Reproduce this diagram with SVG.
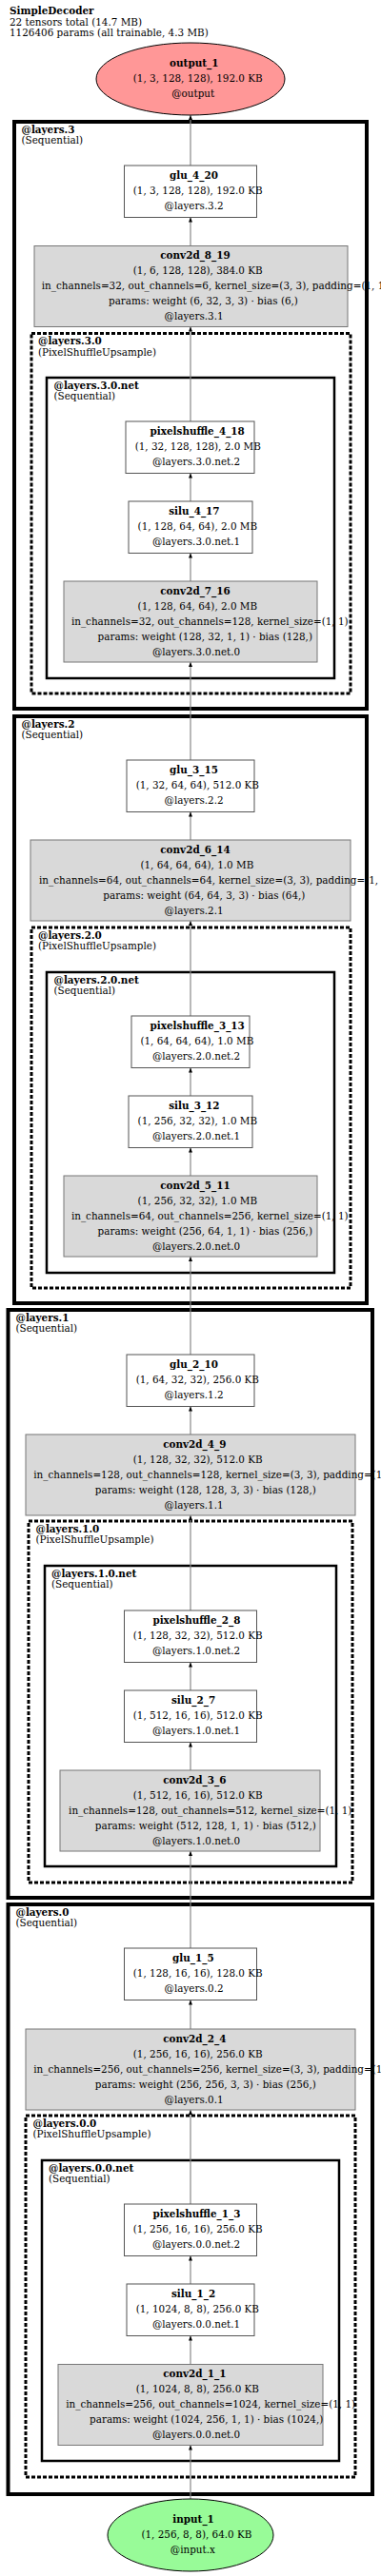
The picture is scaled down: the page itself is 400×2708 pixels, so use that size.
<svg xmlns="http://www.w3.org/2000/svg" width="400" height="2708" viewBox="0 0 400 2708">
<style>
text{font-family:"DejaVu Serif","Liberation Serif",serif;font-size:10.4px;fill:#000}
.b{font-weight:bold}
.box{fill:#fff;stroke:#555;stroke-width:1}
.conv{fill:#d9d9d9;stroke:#777;stroke-width:1}
.seq{fill:none;stroke:#000;stroke-width:4}
.psu{fill:none;stroke:#000;stroke-width:3;stroke-dasharray:4 2}
.net{fill:none;stroke:#000;stroke-width:2.5}
.e{stroke:#888;stroke-width:1.2;fill:none;marker-end:url(#ah)}
</style>
<defs>
<marker id="ah" viewBox="0 0 5 4" refX="5" refY="2" markerWidth="5" markerHeight="4" markerUnits="userSpaceOnUse" orient="auto">
<path d="M0,0 L5,2 L0,4 z" fill="#000"/>
</marker>
</defs>
<rect x="0" y="0" width="400" height="2708" fill="#fff"/>
<g id="title">
<text x="10" y="15" class="b">SimpleDecoder</text>
<text x="10" y="26.5">22 tensors total (14.7 MB)</text>
<text x="10" y="38">1126406 params (all trainable, 4.3 MB)</text>
</g>
<g id="clusters">
<g id="cluster_layers_3">
<rect class="seq" x="15" y="128" width="370" height="617"/>
<text x="22.5" y="139.5" class="b">@layers.3</text><text x="22.5" y="151">(Sequential)</text>
</g>
<g id="cluster_layers_3_0">
<rect class="psu" x="33" y="350.5" width="335" height="378.5"/>
<text x="40" y="362" class="b">@layers.3.0</text><text x="40" y="373.5">(PixelShuffleUpsample)</text>
</g>
<g id="cluster_layers_3_0_net">
<rect class="net" x="49" y="397" width="302" height="316"/>
<text x="56.5" y="408.5" class="b">@layers.3.0.net</text><text x="56.5" y="420">(Sequential)</text>
</g>
<g id="cluster_layers_2">
<rect class="seq" x="15" y="753" width="370" height="617"/>
<text x="22.5" y="764.5" class="b">@layers.2</text><text x="22.5" y="776">(Sequential)</text>
</g>
<g id="cluster_layers_2_0">
<rect class="psu" x="33" y="975" width="335" height="379"/>
<text x="40" y="986.5" class="b">@layers.2.0</text><text x="40" y="998">(PixelShuffleUpsample)</text>
</g>
<g id="cluster_layers_2_0_net">
<rect class="net" x="49" y="1022" width="302" height="316"/>
<text x="56.5" y="1033.5" class="b">@layers.2.0.net</text><text x="56.5" y="1045">(Sequential)</text>
</g>
<g id="cluster_layers_1">
<rect class="seq" x="8.5" y="1377" width="382.5" height="618"/>
<text x="16.5" y="1388.5" class="b">@layers.1</text><text x="16.5" y="1400">(Sequential)</text>
</g>
<g id="cluster_layers_1_0">
<rect class="psu" x="30" y="1599" width="340" height="380"/>
<text x="37.5" y="1610.5" class="b">@layers.1.0</text><text x="37.5" y="1622">(PixelShuffleUpsample)</text>
</g>
<g id="cluster_layers_1_0_net">
<rect class="net" x="47" y="1646" width="306" height="316"/>
<text x="54" y="1657.5" class="b">@layers.1.0.net</text><text x="54" y="1669">(Sequential)</text>
</g>
<g id="cluster_layers_0">
<rect class="seq" x="8.5" y="2002" width="382.5" height="620"/>
<text x="16.5" y="2013.5" class="b">@layers.0</text><text x="16.5" y="2025">(Sequential)</text>
</g>
<g id="cluster_layers_0_0">
<rect class="psu" x="27" y="2224" width="346" height="380"/>
<text x="34.5" y="2235.5" class="b">@layers.0.0</text><text x="34.5" y="2247">(PixelShuffleUpsample)</text>
</g>
<g id="cluster_layers_0_0_net">
<rect class="net" x="44" y="2271" width="312" height="316"/>
<text x="51" y="2282.5" class="b">@layers.0.0.net</text><text x="51" y="2294">(Sequential)</text>
</g>
</g>
<g id="edges">
<line class="e" x1="200" y1="2627" x2="200" y2="2570.5"/>
<line class="e" x1="200" y1="2485.5" x2="200" y2="2455.5"/>
<line class="e" x1="200" y1="2401" x2="200" y2="2371.5"/>
<line class="e" x1="200" y1="2317" x2="200" y2="2218"/>
<line class="e" x1="200" y1="2133" x2="200" y2="2102.5"/>
<line class="e" x1="200" y1="2048" x2="200" y2="1946"/>
<line class="e" x1="200" y1="1861" x2="200" y2="1831.5"/>
<line class="e" x1="200" y1="1777" x2="200" y2="1747.5"/>
<line class="e" x1="200" y1="1693" x2="200" y2="1593"/>
<line class="e" x1="200" y1="1508" x2="200" y2="1478.5"/>
<line class="e" x1="200" y1="1424" x2="200" y2="1321"/>
<line class="e" x1="200" y1="1236" x2="200" y2="1206.5"/>
<line class="e" x1="200" y1="1152" x2="200" y2="1122.5"/>
<line class="e" x1="200" y1="1068" x2="200" y2="968"/>
<line class="e" x1="200" y1="883" x2="200" y2="853.5"/>
<line class="e" x1="200" y1="799" x2="200" y2="696"/>
<line class="e" x1="200" y1="611" x2="200" y2="581.5"/>
<line class="e" x1="200" y1="527" x2="200" y2="497.5"/>
<line class="e" x1="200" y1="443" x2="200" y2="343.5"/>
<line class="e" x1="200" y1="258.5" x2="200" y2="228.5"/>
<line class="e" x1="200" y1="174" x2="200" y2="121"/>
</g>
<g id="output_1">
<ellipse cx="200" cy="83" rx="99" ry="38" fill="#ff9797" stroke="#000" stroke-width="1"/>
<text x="178.1" y="70" class="b">output_1</text>
<text x="139.8" y="86">(1, 3, 128, 128), 192.0 KB</text>
<text x="180.2" y="102">@output</text>
</g>
<g id="glu_4_20">
<rect class="box" x="130.5" y="174" width="139" height="54.5"/>
<text x="178.1" y="187.5" class="b">glu_4_20</text>
<text x="139.8" y="203.5">(1, 3, 128, 128), 192.0 KB</text>
<text x="172.6" y="219.5">@layers.3.2</text>
</g>
<g id="conv2d_8_19">
<rect class="conv" x="36" y="258.5" width="329" height="85"/>
<text x="168.3" y="272" class="b">conv2d_8_19</text>
<text x="139.8" y="288">(1, 6, 128, 128), 384.0 KB</text>
<text x="43.8" y="304">in_channels=32, out_channels=6, kernel_size=(3, 3), padding=(1, 1)</text>
<text x="114" y="320">params: weight (6, 32, 3, 3) · bias (6,)</text>
<text x="172.6" y="336">@layers.3.1</text>
</g>
<g id="pixelshuffle_4_18">
<rect class="box" x="132" y="443" width="135" height="54.5"/>
<text x="157.6" y="456.5" class="b">pixelshuffle_4_18</text>
<text x="141.7" y="472.5">(1, 32, 128, 128), 2.0 MB</text>
<text x="159.9" y="488.5">@layers.3.0.net.2</text>
</g>
<g id="silu_4_17">
<rect class="box" x="135" y="527" width="130" height="54.5"/>
<text x="177.2" y="540.5" class="b">silu_4_17</text>
<text x="144.6" y="556.5">(1, 128, 64, 64), 2.0 MB</text>
<text x="159.9" y="572.5">@layers.3.0.net.1</text>
</g>
<g id="conv2d_7_16">
<rect class="conv" x="67" y="611" width="266" height="85"/>
<text x="168.3" y="624.5" class="b">conv2d_7_16</text>
<text x="144.6" y="640.5">(1, 128, 64, 64), 2.0 MB</text>
<text x="74.9" y="656.5">in_channels=32, out_channels=128, kernel_size=(1, 1)</text>
<text x="102.6" y="672.5">params: weight (128, 32, 1, 1) · bias (128,)</text>
<text x="159.9" y="688.5">@layers.3.0.net.0</text>
</g>
<g id="glu_3_15">
<rect class="box" x="133" y="799" width="134" height="54.5"/>
<text x="178.1" y="812.5" class="b">glu_3_15</text>
<text x="142.7" y="828.5">(1, 32, 64, 64), 512.0 KB</text>
<text x="172.6" y="844.5">@layers.2.2</text>
</g>
<g id="conv2d_6_14">
<rect class="conv" x="32" y="883" width="336" height="85"/>
<text x="168.3" y="896.5" class="b">conv2d_6_14</text>
<text x="147.4" y="912.5">(1, 64, 64, 64), 1.0 MB</text>
<text x="41" y="928.5">in_channels=64, out_channels=64, kernel_size=(3, 3), padding=(1, 1)</text>
<text x="108.3" y="944.5">params: weight (64, 64, 3, 3) · bias (64,)</text>
<text x="172.6" y="960.5">@layers.2.1</text>
</g>
<g id="pixelshuffle_3_13">
<rect class="box" x="138" y="1068" width="124" height="54.5"/>
<text x="157.6" y="1081.5" class="b">pixelshuffle_3_13</text>
<text x="147.4" y="1097.5">(1, 64, 64, 64), 1.0 MB</text>
<text x="159.9" y="1113.5">@layers.2.0.net.2</text>
</g>
<g id="silu_3_12">
<rect class="box" x="135" y="1152" width="130" height="54.5"/>
<text x="177.2" y="1165.5" class="b">silu_3_12</text>
<text x="144.6" y="1181.5">(1, 256, 32, 32), 1.0 MB</text>
<text x="159.9" y="1197.5">@layers.2.0.net.1</text>
</g>
<g id="conv2d_5_11">
<rect class="conv" x="67" y="1236" width="266" height="85"/>
<text x="168.3" y="1249.5" class="b">conv2d_5_11</text>
<text x="144.6" y="1265.5">(1, 256, 32, 32), 1.0 MB</text>
<text x="74.9" y="1281.5">in_channels=64, out_channels=256, kernel_size=(1, 1)</text>
<text x="102.6" y="1297.5">params: weight (256, 64, 1, 1) · bias (256,)</text>
<text x="159.9" y="1313.5">@layers.2.0.net.0</text>
</g>
<g id="glu_2_10">
<rect class="box" x="133" y="1424" width="134" height="54.5"/>
<text x="178.1" y="1437.5" class="b">glu_2_10</text>
<text x="142.7" y="1453.5">(1, 64, 32, 32), 256.0 KB</text>
<text x="172.6" y="1469.5">@layers.1.2</text>
</g>
<g id="conv2d_4_9">
<rect class="conv" x="27" y="1508" width="346" height="85"/>
<text x="171.2" y="1521.5" class="b">conv2d_4_9</text>
<text x="139.8" y="1537.5">(1, 128, 32, 32), 512.0 KB</text>
<text x="35.3" y="1553.5">in_channels=128, out_channels=128, kernel_size=(3, 3), padding=(1, 1)</text>
<text x="99.8" y="1569.5">params: weight (128, 128, 3, 3) · bias (128,)</text>
<text x="172.6" y="1585.5">@layers.1.1</text>
</g>
<g id="pixelshuffle_2_8">
<rect class="box" x="130.5" y="1693" width="139" height="54.5"/>
<text x="160.4" y="1706.5" class="b">pixelshuffle_2_8</text>
<text x="139.8" y="1722.5">(1, 128, 32, 32), 512.0 KB</text>
<text x="159.9" y="1738.5">@layers.1.0.net.2</text>
</g>
<g id="silu_2_7">
<rect class="box" x="130.5" y="1777" width="139" height="54.5"/>
<text x="180" y="1790.5" class="b">silu_2_7</text>
<text x="139.8" y="1806.5">(1, 512, 16, 16), 512.0 KB</text>
<text x="159.9" y="1822.5">@layers.1.0.net.1</text>
</g>
<g id="conv2d_3_6">
<rect class="conv" x="63" y="1861" width="273" height="85"/>
<text x="171.2" y="1874.5" class="b">conv2d_3_6</text>
<text x="139.8" y="1890.5">(1, 512, 16, 16), 512.0 KB</text>
<text x="72.1" y="1906.5">in_channels=128, out_channels=512, kernel_size=(1, 1)</text>
<text x="99.8" y="1922.5">params: weight (512, 128, 1, 1) · bias (512,)</text>
<text x="159.9" y="1938.5">@layers.1.0.net.0</text>
</g>
<g id="glu_1_5">
<rect class="box" x="130.5" y="2048" width="139" height="54.5"/>
<text x="181" y="2061.5" class="b">glu_1_5</text>
<text x="139.8" y="2077.5">(1, 128, 16, 16), 128.0 KB</text>
<text x="172.6" y="2093.5">@layers.0.2</text>
</g>
<g id="conv2d_2_4">
<rect class="conv" x="27" y="2133" width="346" height="85"/>
<text x="171.2" y="2146.5" class="b">conv2d_2_4</text>
<text x="139.8" y="2162.5">(1, 256, 16, 16), 256.0 KB</text>
<text x="35.3" y="2178.5">in_channels=256, out_channels=256, kernel_size=(3, 3), padding=(1, 1)</text>
<text x="99.8" y="2194.5">params: weight (256, 256, 3, 3) · bias (256,)</text>
<text x="172.6" y="2210.5">@layers.0.1</text>
</g>
<g id="pixelshuffle_1_3">
<rect class="box" x="130.5" y="2317" width="139" height="54.5"/>
<text x="160.4" y="2330.5" class="b">pixelshuffle_1_3</text>
<text x="139.8" y="2346.5">(1, 256, 16, 16), 256.0 KB</text>
<text x="159.9" y="2362.5">@layers.0.0.net.2</text>
</g>
<g id="silu_1_2">
<rect class="box" x="133" y="2401" width="134" height="54.5"/>
<text x="180" y="2414.5" class="b">silu_1_2</text>
<text x="142.7" y="2430.5">(1, 1024, 8, 8), 256.0 KB</text>
<text x="159.9" y="2446.5">@layers.0.0.net.1</text>
</g>
<g id="conv2d_1_1">
<rect class="conv" x="61" y="2485.5" width="278" height="85"/>
<text x="171.2" y="2499" class="b">conv2d_1_1</text>
<text x="142.7" y="2515">(1, 1024, 8, 8), 256.0 KB</text>
<text x="69.2" y="2531">in_channels=256, out_channels=1024, kernel_size=(1, 1)</text>
<text x="94.1" y="2547">params: weight (1024, 256, 1, 1) · bias (1024,)</text>
<text x="159.9" y="2563">@layers.0.0.net.0</text>
</g>
<g id="input_1">
<ellipse cx="200" cy="2665" rx="87" ry="38" fill="#98fb98" stroke="#000" stroke-width="1"/>
<text x="181.3" y="2652" class="b">input_1</text>
<text x="148.4" y="2668">(1, 256, 8, 8), 64.0 KB</text>
<text x="178.8" y="2684">@input.x</text>
</g>
</svg>
